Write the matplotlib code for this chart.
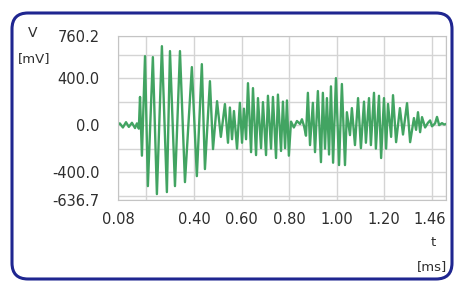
import matplotlib
matplotlib.use("Agg")
import matplotlib.pyplot as plt
from matplotlib.patches import FancyBboxPatch

# waveform (time in ms, voltage in mV)
t_ms = [0.080, 0.088, 0.101, 0.114, 0.126, 0.139, 0.152, 0.160, 0.168,
        0.173, 0.181, 0.194, 0.206, 0.227, 0.244, 0.265, 0.286, 0.299, 0.320,
        0.341, 0.362, 0.391, 0.412, 0.433, 0.446, 0.467, 0.480, 0.497, 0.513,
        0.530, 0.543, 0.551, 0.560, 0.568, 0.581, 0.593, 0.602, 0.610, 0.619,
        0.627, 0.640, 0.648, 0.661, 0.669, 0.682, 0.690, 0.703, 0.711, 0.724,
        0.732, 0.745, 0.753, 0.766, 0.774, 0.783, 0.791, 0.799,
        0.808, 0.820, 0.833, 0.846, 0.854, 0.863, 0.871,
        0.879, 0.888, 0.900, 0.909, 0.921, 0.934, 0.942, 0.951, 0.959, 0.968,
        0.976, 0.985, 0.997, 1.010, 1.022, 1.035, 1.043, 1.056, 1.064, 1.077,
        1.090, 1.102, 1.115, 1.123, 1.136, 1.144, 1.157, 1.165, 1.178, 1.187,
        1.199, 1.208, 1.216, 1.229, 1.237, 1.250, 1.266, 1.279, 1.296, 1.309,
        1.325, 1.334, 1.342, 1.351, 1.359, 1.372, 1.384, 1.393, 1.401, 1.414,
        1.422, 1.431, 1.443, 1.452, 1.460]
v_mv = [0, 15, -20, 25, -15, 20, -25, 15, -30,
        240, -260, 587, -519, 579, -587, 672, -570, 630, -519,
        630, -485, 494, -434, 519, -374, 374, -204, 204, -100,
        179, -150, 150, -120, 120, -200, 190, -150, 140, -120,
        357, -230, 315, -255, 230, -196, 196, -255, 250, -200,
        240, -280, 260, -220, 200, -196, 210, -260,
        30, -20, 35, 10, 50, -10, -90,
        275, -170, 190, -230, 290, -315, 275, -200, 230, -250,
        330, -320, 400, -340, 350, -340, 110, -85, 145, -170,
        230, -196, 200, -150, 230, -170, 275, -200, 250, -280,
        230, -200, 180, -100, 255, -145, 145, -80, 187, -145,
        60, -40, 110, -60, 68, -20, 20, 40, -10, 15,
        70, 0, 17, 5, 10]

x_ticks = [0.08, 0.40, 0.60, 0.80, 1.00, 1.20, 1.46]
y_ticks = [-636.7, -400.0, 0.0, 400.0, 760.2]
x_grid = [0.2, 0.4, 0.6, 0.8, 1.0, 1.2, 1.4]
y_grid = [-600, -400, -200, 0, 200, 400, 600]

txt = '#2e2e2e'

fig = plt.figure(figsize=(4.57, 2.82), dpi=100)
ax = fig.add_axes([0.258, 0.291, 0.718, 0.582])

ax.plot(t_ms, v_mv, color='#42a462', lw=1.7)

ax.set_xlim(0.08, 1.46)
ax.set_ylim(-636.7, 760.2)
ax.set_xticks(x_ticks)
ax.set_xticklabels(['%.2f' % v for v in x_ticks])
ax.set_yticks(y_ticks)
ax.set_yticklabels(['%.1f' % v for v in y_ticks])
ax.set_xticks(x_grid, minor=True)
ax.set_yticks(y_grid, minor=True)
ax.grid(which='both', color='#d4d4d4', lw=1.0)
ax.set_axisbelow(True)
ax.tick_params(which='both', length=0, labelsize=10.5, colors=txt)
ax.tick_params(axis='y', pad=13)
ax.tick_params(axis='x', pad=9)
ax.get_xticklabels()[-1].set_ha('right')
for s in ax.spines.values():
    s.set_color('#c4c4c4')

# axis captions
fig.text(33 / 457, 1 - 33 / 282, 'V', fontsize=10, color=txt, ha='center', va='center')
fig.text(34 / 457, 1 - 59 / 282, '[mV]', fontsize=9.5, color=txt, ha='center', va='center')
fig.text(433 / 457, 1 - 242 / 282, 't', fontsize=9.5, color=txt, ha='center', va='center')
fig.text(432 / 457, 1 - 267 / 282, '[ms]', fontsize=9.5, color=txt, ha='center', va='center')

# rounded frame
frame = FancyBboxPatch((0.12, 0.03), 4.40, 2.66,
                       boxstyle='round,pad=0,rounding_size=0.16',
                       transform=fig.dpi_scale_trans, fill=False,
                       ec='#1f2690', lw=2.2)
fig.patches.append(frame)

fig.savefig('out.png', dpi=100)
